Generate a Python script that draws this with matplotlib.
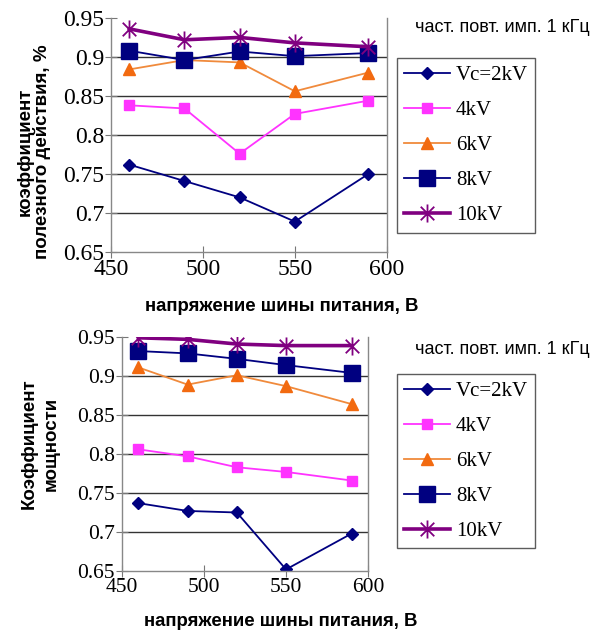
import numpy as np
import matplotlib
matplotlib.use('Agg')
import matplotlib.pyplot as plt
from matplotlib.path import Path

# supply bus voltage, V
voltage = [460, 490, 520, 550, 590]

series_labels = ['Vc=2kV', '4kV', '6kV', '8kV', '10kV']

# efficiency (top chart)
eff_2kv = [0.762, 0.741, 0.720, 0.689, 0.750]
eff_4kv = [0.838, 0.834, 0.776, 0.827, 0.844]
eff_6kv = [0.884, 0.896, 0.893, 0.856, 0.880]
eff_8kv = [0.908, 0.896, 0.907, 0.901, 0.905]
eff_10kv = [0.936, 0.922, 0.925, 0.918, 0.913]

# power factor (bottom chart)
pf_2kv = [0.737, 0.727, 0.725, 0.652, 0.698]
pf_4kv = [0.806, 0.797, 0.783, 0.777, 0.766]
pf_6kv = [0.911, 0.889, 0.901, 0.887, 0.864]
pf_8kv = [0.932, 0.929, 0.922, 0.914, 0.904]
pf_10kv = [0.949, 0.947, 0.941, 0.939, 0.939]

yticks = [0.65, 0.7, 0.75, 0.8, 0.85, 0.9, 0.95]
ytick_labels = ['0.65', '0.7', '0.75', '0.8', '0.85', '0.9', '0.95']
xticks = [450, 500, 550, 600]

star = Path([(0, -1), (0, 1), (-0.75, -0.75), (0.75, 0.75), (-0.75, 0.75), (0.75, -0.75)],
            [Path.MOVETO, Path.LINETO, Path.MOVETO, Path.LINETO, Path.MOVETO, Path.LINETO])

styles = [
    dict(color='#000080', lw=1.3, marker='D', ms=6, mfc='#000080', mec='#000080'),
    dict(color='#ff33ff', lw=1.3, marker='s', ms=7, mfc='#ff33ff', mec='#ff33ff'),
    dict(color='#f08a3c', lw=1.3, marker='^', ms=8, mfc='#f26a10', mec='#f26a10'),
    dict(color='#000080', lw=1.3, marker='s', ms=11, mfc='#000080', mec='#000080'),
    dict(color='#800080', lw=2.6, marker=star, ms=13, mfc='none', mec='#800080', mew=1.3),
]

serif = 'Liberation Serif'
sans = 'Liberation Sans'

fig = plt.figure(figsize=(5.96, 6.31), dpi=100)
ax1 = fig.add_axes([0.186, 0.6006, 0.463, 0.371])
ax2 = fig.add_axes([0.2047, 0.0951, 0.4128, 0.3708])


def draw(ax, data, fs):
    handles = []
    for vals, st in zip(data, styles):
        h, = ax.plot(voltage, vals, **st)
        handles.append(h)
    ax.set_xlim(450, 600)
    ax.set_ylim(0.65, 0.95)
    ax.set_yticks(yticks)
    ax.set_yticklabels(ytick_labels, fontfamily=serif, fontsize=fs)
    ax.set_xticks(xticks)
    ax.set_xticklabels([str(t) for t in xticks], fontfamily=serif, fontsize=fs)
    for y in yticks[1:-1]:
        ax.axhline(y, color='#333333', lw=1.0, zorder=0)
    for s in ['left', 'bottom', 'right']:
        ax.spines[s].set_color('#888888')
        ax.spines[s].set_linewidth(1.0)
    ax.spines['top'].set_visible(False)
    ax.tick_params(direction='inout', length=8, color='#777777', pad=1)
    ax.tick_params(axis='y', right=False)
    return handles


h1 = draw(ax1, [eff_2kv, eff_4kv, eff_6kv, eff_8kv, eff_10kv], 17)
h2 = draw(ax2, [pf_2kv, pf_4kv, pf_6kv, pf_8kv, pf_10kv], 15.5)

for h, yc in [(h1, 0.7694), (h2, 0.2694)]:
    leg = fig.legend(h, series_labels, loc='center', bbox_to_anchor=(0.782, yc),
                     prop={'family': serif, 'size': 15}, fancybox=False,
                     frameon=True, handlelength=2.2, handletextpad=0.3,
                     labelspacing=0.74, borderpad=0.35, borderaxespad=0)
    leg.get_frame().set_edgecolor('#333333')
    leg.get_frame().set_linewidth(1.0)

for yc in [1 - 27 / 631, 1 - 350 / 631]:
    fig.text(0.697, yc, 'част. повт. имп. 1 кГц', fontfamily=sans, fontsize=13,
             va='center', ha='left')

fig.text(282 / 596, 1 - 307 / 631, 'напряжение шины питания, В', fontfamily=sans,
         fontweight='bold', fontsize=13.4, ha='center', va='center')
fig.text(281 / 596, 1 - 622 / 631, 'напряжение шины питания, В', fontfamily=sans,
         fontweight='bold', fontsize=13.4, ha='center', va='center')

fig.text(34 / 596, 1 - 152 / 631, 'коэффициент\nполезного действия, %', fontfamily=sans,
         fontweight='bold', fontsize=13.5, rotation=90, ha='center', va='center',
         multialignment='center', linespacing=0.95)
fig.text(40 / 596, 1 - 444 / 631, 'Коэффициент\nмощности', fontfamily=sans,
         fontweight='bold', fontsize=13.5, rotation=90, ha='center', va='center',
         multialignment='center', linespacing=1.4)

fig.savefig('out.png', dpi=100)
